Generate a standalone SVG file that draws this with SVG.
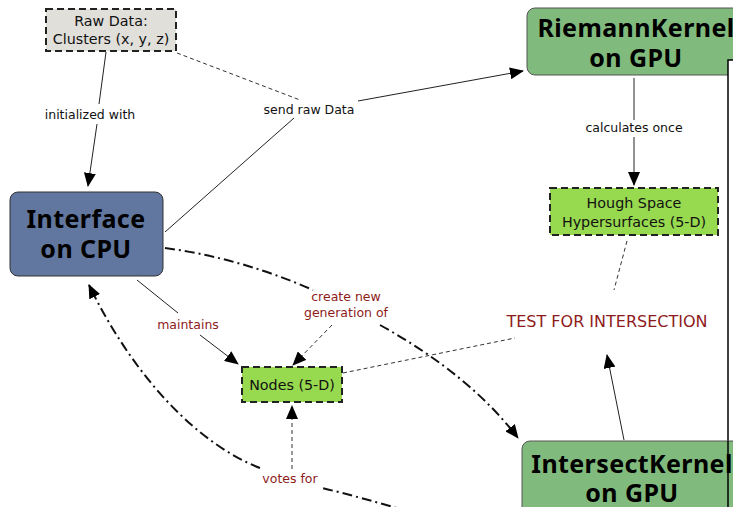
<svg xmlns="http://www.w3.org/2000/svg" width="733" height="507" viewBox="0 0 733 507">
<style>
.t{font-family:"DejaVu Sans","Noto Sans",sans-serif;text-anchor:middle}
.big{font-family:"Noto Sans","DejaVu Sans",sans-serif;font-size:25px;font-weight:bold;fill:#000;letter-spacing:0.4px}
.lbl{font-size:12.5px;fill:#111}
.red{font-size:12.5px;fill:#8e1b1b}
.box{font-size:14.3px;fill:#111}
.ln{fill:none;stroke:#222;stroke-width:1}
.dash{fill:none;stroke:#333;stroke-width:1;stroke-dasharray:4 3}
.dd{fill:none;stroke:#111;stroke-width:2;stroke-dasharray:10 4 2 4}
.nb{stroke:#222;stroke-width:2;stroke-dasharray:7 4}
</style>
<defs>
<marker id="ah" markerUnits="userSpaceOnUse" markerWidth="14" markerHeight="12" refX="13" refY="6" orient="auto">
<path d="M0,0 L14,6 L0,12 Z" fill="#000"/>
</marker>
</defs>
<rect width="733" height="507" fill="#fff"/>
<g id="connectors">
<path class="ln" d="M106,52 L99,104"/>
<path class="ln" d="M97,124 L88,186" marker-end="url(#ah)"/>
<path class="dash" d="M177,53 L300,100"/>
<path class="ln" d="M165,232 L294,118"/>
<path class="ln" d="M358,101 L523,71" marker-end="url(#ah)"/>
<path class="ln" d="M634,78 L634,120"/>
<path class="ln" d="M634,137 L634,185" marker-end="url(#ah)"/>
<path class="dash" d="M627,241 L614,290"/>
<path class="dash" d="M343,373 L515,338"/>
<path class="ln" d="M624,440 L607,355" marker-end="url(#ah)"/>
<path class="ln" d="M137,280 L178,313"/>
<path class="ln" d="M200,335 L238,364" marker-end="url(#ah)"/>
<path class="dd" d="M165,248 Q240,258 313,290"/>
<path class="dd" d="M380,325 Q470,375 518,438" marker-end="url(#ah)"/>
<path class="dash" d="M332,325 L293,365" marker-end="url(#ah)"/>
<path class="dd" d="M410,512 Q360,497 322,488"/>
<path class="dd" d="M260,468 C200,445 135,380 89,285" marker-end="url(#ah)"/>
<path class="dash" d="M292,469 L292,406" marker-end="url(#ah)"/>
<g class="t">
<text class="lbl" x="90" y="119">initialized with</text>
<text class="lbl" x="309" y="114">send raw Data</text>
<text class="lbl" x="634" y="132">calculates once</text>
<text class="red" x="188" y="329">maintains</text>
<text class="red" x="346" y="301">create new</text>
<text class="red" x="346" y="317">generation of</text>
<text class="red" x="290" y="483">votes for</text>
<text x="607" y="327" style="font-size:16px;fill:#8e1b1b">TEST FOR INTERSECTION</text>
</g>
</g>
<g id="rawdata">
<rect x="46" y="9" width="130" height="42" fill="#e0dfda" class="nb"/>
<text class="t box" x="111" y="26">Raw Data:</text>
<text class="t box" x="111" y="44">Clusters (x, y, z)</text>
</g>
<g id="interface">
<rect x="10" y="192" width="153" height="84" rx="8" fill="#61779f" stroke="#333" stroke-width="1"/>
<text class="t big" x="86" y="228">Interface</text>
<text class="t big" x="86" y="258">on CPU</text>
</g>
<g id="riemann">
<rect x="527" y="8" width="230" height="67" rx="8" fill="#80bb7d" stroke="#555" stroke-width="1"/>
<text class="t big" x="636" y="37">RiemannKernel</text>
<text class="t big" x="636" y="67">on GPU</text>
</g>
<g id="frame">
<rect x="728" y="60" width="20" height="470" fill="#fff" stroke="#000" stroke-width="1.5"/>
</g>
<g id="hough">
<rect x="550" y="188" width="168" height="47" fill="#97d94f" class="nb"/>
<text class="t box" x="634" y="208">Hough Space</text>
<text class="t box" x="634" y="227">Hypersurfaces (5-D)</text>
</g>
<g id="nodes">
<rect x="242" y="367" width="100" height="35" fill="#97d94f" class="nb"/>
<text class="t box" x="292" y="390">Nodes (5-D)</text>
</g>
<g id="intersect">
<rect x="522" y="441" width="230" height="80" rx="8" fill="#80bb7d" stroke="#555" stroke-width="1"/>
<text class="t big" x="632" y="473">IntersectKernel</text>
<text class="t big" x="632" y="502">on GPU</text>
<line x1="728" y1="441" x2="728" y2="507" stroke="#000" stroke-width="1.5"/>
</g>
</svg>
